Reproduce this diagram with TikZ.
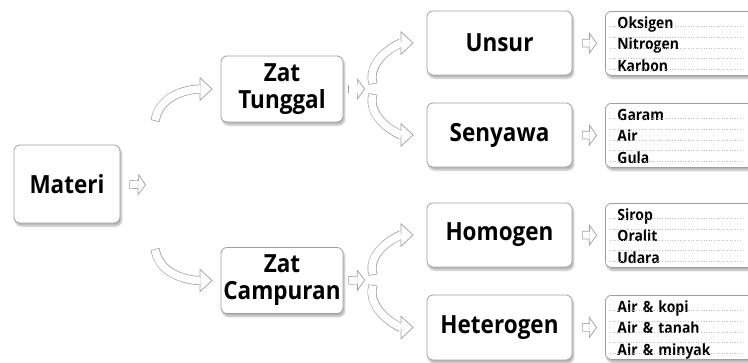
\documentclass[tikz,border=0pt]{standalone}
\usepackage{fontspec}
\newfontfamily\mapfont[FakeStretch=0.9]{Open Sans}
\usetikzlibrary{arrows.meta,shadows.blur}

\begin{document}
\begin{tikzpicture}[x=1pt, y=1pt,
	box/.style={draw=gray!75, line width=0.8pt, rounded corners=6pt, fill=white, blur shadow={shadow blur steps=6, shadow xshift=1.5pt, shadow yshift=-3pt, shadow opacity=30}, font=\mapfont\bfseries\fontsize{25}{27}\selectfont, align=center, inner sep=0pt},
	lst/.style={box, anchor=north west, text width=140pt, inner xsep=12pt, inner ysep=0pt, align=left, font=\mapfont\bfseries\fontsize{15.5}{21.5}\selectfont, text height=17pt, text depth=47pt},
	dots/.style={gray!50, dotted, line width=0.6pt},
	flat/.style 2 args={draw=gray!75, line width=8.5pt, shorten <=#1, shorten >=#2, -{Triangle[length=8pt, width=22pt, fill=white, line width=0.7pt]}, postaction={draw=white, line width=7.1pt, -, shorten <=#1+0.7pt, shorten >=#2+7.3pt}},
	bent/.style={draw=gray!75, line width=9pt, shorten >=#1, -{Triangle[length=13pt, width=24pt, fill=white, line width=0.7pt]}, postaction={draw=white, line width=7.6pt, -, shorten <=0.7pt, shorten >=#1+12.3pt}}]
	\useasboundingbox (0, 0) rectangle (748, -362);
	\node[box, minimum width=106pt, minimum height=78pt] (m) at (67, -184) {Materi};
	\node[box, minimum width=122pt, minimum height=66pt] (zt) at (282, -89) {Zat\\Tunggal};
	\node[box, minimum width=122pt, minimum height=66pt] (zc) at (282, -280.5) {Zat\\Campuran};
	\node[box, minimum width=145pt, minimum height=64pt] (u) at (499.5, -43) {Unsur};
	\node[box, minimum width=145pt, minimum height=64pt] (s) at (499.5, -135) {Senyawa};
	\node[box, minimum width=145pt, minimum height=64pt] (h) at (499.5, -235) {Homogen};
	\node[box, minimum width=145pt, minimum height=65pt] (ht) at (499.5, -327.5) {Heterogen};
	\node[lst] (u-l) at (605, -11) {Oksigen\\Nitrogen\\Karbon};
	\node[lst] (s-l) at (605, -103) {Garam\\Air\\Gula};
	\node[lst] (h-l) at (605, -203) {Sirop\\Oralit\\Udara};
	\node[lst] (ht-l) at (605, -295) {Air \& kopi\\Air \& tanah\\Air \& minyak};
	\foreach \l in {u-l, s-l, h-l, ht-l}
		\foreach \k in {0, ..., 4}
			\draw[dots] ([shift={(5, -15.5-10.7*\k)}]\l.north west) -- ++(132, 0);
	\coordinate (mj) at (146, -185);
	\coordinate (ztj) at (365, -89);
	\coordinate (zcj) at (365, -280);
	\coordinate (m-up) at (155, -121);
	\coordinate (m-dn) at (155, -249);
	\coordinate (zt-up) at (373, -84);
	\coordinate (zt-dn) at (373, -94);
	\coordinate (zc-up) at (373, -275);
	\coordinate (zc-dn) at (373, -285);
	\draw[bent=8pt] (m-up) to[out=80, in=180] (zt.west);
	\draw[bent=8pt] (m-dn) to[out=-80, in=180] (zc.west);
	\draw[bent=13pt] (zt-up) to[out=105, in=180] (u.west);
	\draw[bent=13pt] (zt-dn) to[out=-105, in=180] (s.west);
	\draw[bent=13pt] (zc-up) to[out=105, in=180] (h.west);
	\draw[bent=13pt] (zc-dn) to[out=-105, in=180] (ht.west);
	\draw[flat={9pt}{0pt}] (m.east) -- (mj);
	\draw[flat={5pt}{0pt}] (zt.east) -- (ztj);
	\draw[flat={5pt}{0pt}] (zc.east) -- (zcj);
	\draw[flat={10pt}{8pt}] (u.east) -- (u-l.west);
	\draw[flat={10pt}{8pt}] (s.east) -- (s-l.west);
	\draw[flat={10pt}{8pt}] (h.east) -- (h-l.west);
	\draw[flat={10pt}{8pt}] (ht.east) -- (ht-l.west);
\end{tikzpicture}
\end{document}
